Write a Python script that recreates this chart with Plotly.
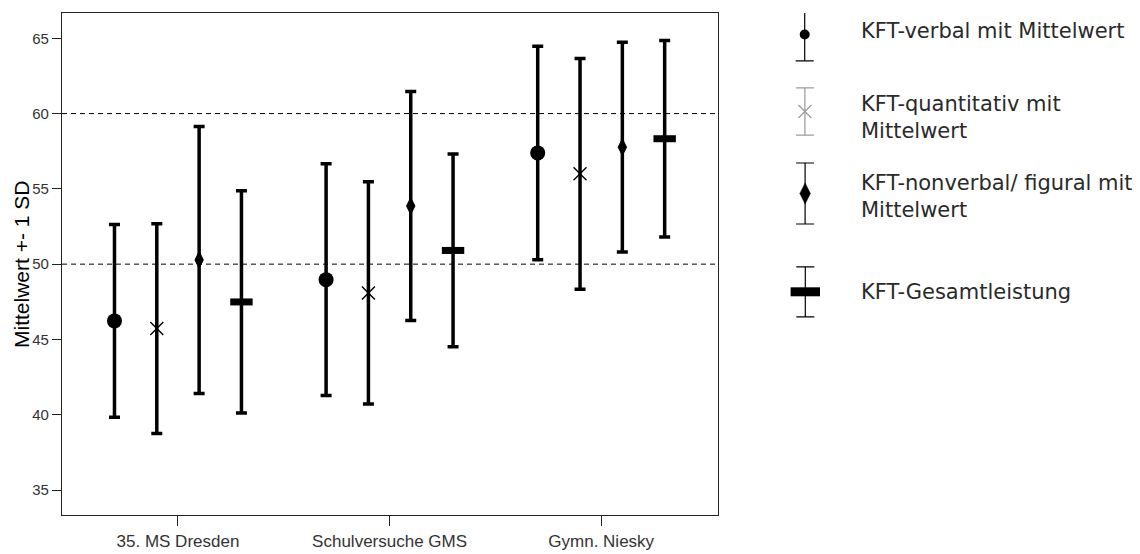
import plotly.graph_objects as go

# ---------------- data ----------------
CATEGORIES = ["35. MS Dresden", "Schulversuche GMS", "Gymn. Niesky"]
SERIES_NAMES = [
    "KFT-verbal mit Mittelwert",
    "KFT-quantitativ mit<br>Mittelwert",
    "KFT-nonverbal/ figural mit<br>Mittelwert",
    "KFT-Gesamtleistung",
]
MEAN_VERBAL = [46.23, 48.97, 57.39]
SD_VERBAL = [6.40, 7.70, 7.09]
MEAN_QUANT = [45.72, 48.09, 56.00]
SD_QUANT = [6.97, 7.38, 7.66]
MEAN_NONVERBAL = [50.28, 53.86, 57.77]
SD_NONVERBAL = [8.87, 7.60, 6.96]
MEAN_TOTAL = [47.49, 50.91, 58.33]
SD_TOTAL = [7.38, 6.40, 6.53]
Y_TICKS = [35, 40, 45, 50, 55, 60, 65]
REF_LINES = [50, 60]
Y_TITLE = "Mittelwert +- 1 SD"

MEANS = [MEAN_VERBAL, MEAN_QUANT, MEAN_NONVERBAL, MEAN_TOTAL]
SDS = [SD_VERBAL, SD_QUANT, SD_NONVERBAL, SD_TOTAL]

# ---------------- layout geometry ----------------
W, H = 1140, 554
OFF = 8  # page body margin: screen px = figure px + 8
# plot frame on screen: left 62, top 13, right 718, bottom 515
L, R, T = 62 - OFF, 10, 13 - OFF
B = H - (515 - OFF)
PW = W - L - R
PH = H - T - B


def px_x(p):
    """screen x pixel -> paper fraction"""
    return (p - OFF - L) / PW


def px_y(p):
    """screen y pixel -> paper fraction"""
    return 1 - (p - OFF - T) / PH


MAIN_RIGHT = 718
FONT = "Liberation Sans, Arial, sans-serif"
LEG_FONT = "DejaVu Sans, sans-serif"

STYLES = [
    dict(symbol="circle", size=15, line=dict(width=0), color="black"),
    dict(symbol="x-thin", size=13, line=dict(width=1.4, color="black"), color="black"),
    dict(symbol="diamond-tall", size=12, line=dict(width=1, color="black"), color="black"),
    dict(symbol="line-ew", size=16, line=dict(width=7, color="black"), color="black"),
]

fig = go.Figure()
for i in range(4):
    fig.add_trace(go.Scatter(
        x=CATEGORIES, y=MEANS[i], mode="markers",
        name=SERIES_NAMES[i], offsetgroup=str(i),
        marker=STYLES[i],
        error_y=dict(type="data", array=SDS[i], visible=True,
                     color="black", thickness=3.5, width=5.5),
        showlegend=False, cliponaxis=False,
    ))

# ---------------- custom legend (glyphs on a helper axis) ----------------
LEG_STYLES = [
    dict(symbol="circle", size=10, line=dict(width=0), color="black"),
    dict(symbol="x-thin", size=13, line=dict(width=1.2, color="#9a9a9a"), color="#9a9a9a"),
    dict(symbol="diamond-tall", size=15, line=dict(width=0.5, color="black"), color="black"),
    dict(symbol="line-ew", size=21, line=dict(width=9, color="black"), color="black"),
]
LEG_BAR_COLORS = ["black", "#9a9a9a", "black", "black"]
LEG_GLYPH_Y = [34.5, 111.5, 193.5, 291.8]
LEG_HALF = [26.3, 23.7, 30.5, 25.0]
LEG_TEXT_Y = [30.7, 117.5, 196.5, 291.7]
LEG_GLYPH_X = 805
LEG_TEXT_X = 859

for i in range(4):
    fig.add_trace(go.Scatter(
        x=[LEG_GLYPH_X], y=[-LEG_GLYPH_Y[i]], mode="markers",
        marker=LEG_STYLES[i], xaxis="x2", yaxis="y2", showlegend=False,
        hoverinfo="skip", cliponaxis=False,
        error_y=dict(type="data", array=[LEG_HALF[i]], visible=True,
                     color=LEG_BAR_COLORS[i], thickness=1.2, width=9),
    ))
    fig.add_annotation(
        x=px_x(LEG_TEXT_X), y=px_y(LEG_TEXT_Y[i]), xref="paper", yref="paper",
        text=SERIES_NAMES[i], showarrow=False, xanchor="left", yanchor="middle",
        align="left", font=dict(family=LEG_FONT, size=21, color="#2a2a2a"),
    )

# reference lines
for v in REF_LINES:
    fig.add_shape(type="line", xref="x domain", yref="y", x0=0, x1=1, y0=v, y1=v,
                  line=dict(color="black", width=1, dash="5px,4px"), layer="below")

# y title
fig.add_annotation(
    x=px_x(21), y=px_y(265), xref="paper", yref="paper", text=Y_TITLE,
    textangle=-90, showarrow=False, xanchor="center", yanchor="middle",
    font=dict(family=FONT, size=21, color="black"),
)

fig.update_layout(
    width=W, height=H,
    margin=dict(l=L, r=R, t=T, b=B, pad=0),
    paper_bgcolor="white", plot_bgcolor="white",
    scattermode="group", scattergap=0.2,
    xaxis=dict(
        domain=[0, px_x(MAIN_RIGHT)], type="category",
        range=[-0.548, 2.552],
        showline=True, mirror=True, linecolor="#222222", linewidth=1.2,
        ticks="outside", ticklen=10, tickcolor="#222222", tickwidth=1,
        showgrid=False, zeroline=False,
        tickfont=dict(family=FONT, size=17, color="#333333"),
    ),
    yaxis=dict(
        range=[33.34, 66.68], tickvals=Y_TICKS,
        showline=True, mirror=True, linecolor="#222222", linewidth=1.2,
        ticks="outside", ticklen=9, tickcolor="#222222", tickwidth=1,
        showgrid=False, zeroline=False,
        tickfont=dict(family=FONT, size=15, color="#333333"),
    ),
    xaxis2=dict(domain=[px_x(760), px_x(1130)], range=[760, 1130], visible=False,
                anchor="y2", fixedrange=True),
    yaxis2=dict(domain=[0, 1], range=[-515, -13], visible=False,
                anchor="x2", fixedrange=True),
)

fig.write_html("out.html")
